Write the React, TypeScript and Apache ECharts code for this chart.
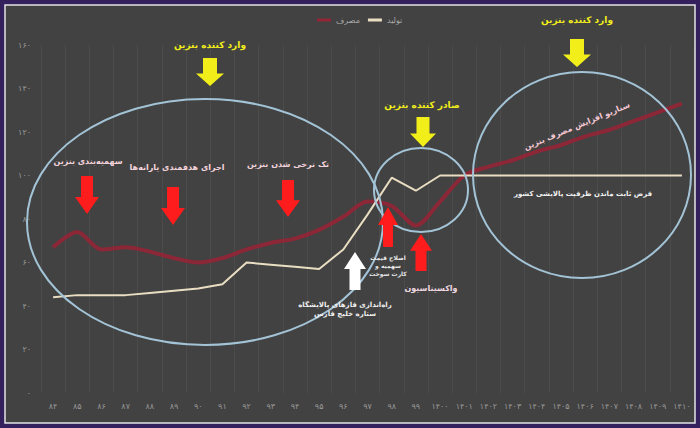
import React, { useEffect, useRef } from "react";
import * as echarts from "echarts";

const categories = ["۸۴","۸۵","۸۶","۸۷","۸۸","۸۹","۹۰","۹۱","۹۲","۹۳","۹۴","۹۵","۹۶","۹۷","۹۸","۹۹","۱۴۰۰","۱۴۰۱","۱۴۰۲","۱۴۰۳","۱۴۰۴","۱۴۰۵","۱۴۰۶","۱۴۰۷","۱۴۰۸","۱۴۰۹","۱۴۱۰"];
const consumption = [67,74,66,67,65,62,60,62,66,69,71,75,81,88,86,77,88,100,104,107,111,114,118,121,125,129,133];
const production = [44,45,45,45,46,47,48,50,60,59,58,57,66,82,99,93,100,100,100,100,100,100,100,100,100,100,100];
const yTickLabels = ["۰","۲۰","۴۰","۶۰","۸۰","۱۰۰","۱۲۰","۱۴۰","۱۶۰"];
const seriesNames = ["مصرف","تولید"];

const FONT = "'DejaVu Sans', sans-serif";

function downArrow(cx: number, y0: number, y1: number, w: number, color: string) {
  const sw = w * 0.5;
  const hl = (y1 - y0) * 0.45;
  return {
    type: "polygon", z: 100, silent: true,
    shape: { points: [[cx - sw / 2, y0], [cx + sw / 2, y0], [cx + sw / 2, y1 - hl], [cx + w / 2, y1 - hl], [cx, y1], [cx - w / 2, y1 - hl], [cx - sw / 2, y1 - hl]] },
    style: { fill: color },
  };
}
function upArrow(cx: number, y0: number, y1: number, w: number, color: string) {
  const sw = w * 0.5;
  const hl = (y1 - y0) * 0.45;
  return {
    type: "polygon", z: 100, silent: true,
    shape: { points: [[cx, y0], [cx + w / 2, y0 + hl], [cx + sw / 2, y0 + hl], [cx + sw / 2, y1], [cx - sw / 2, y1], [cx - sw / 2, y0 + hl], [cx - w / 2, y0 + hl]] },
    style: { fill: color },
  };
}
function label(text: string, x: number, y: number, color: string, size: number, rotation = 0) {
  return {
    type: "text", z: 101, silent: true, x, y, rotation,
    style: {
      text, fill: color, font: `bold ${size}px ${FONT}`,
      textAlign: "center", textVerticalAlign: "middle", align: "center", verticalAlign: "middle",
      lineHeight: size + 2,
    },
  };
}
function ellipse(cx: number, cy: number, rx: number, ry: number) {
  return {
    type: "ellipse", z: 99, silent: true,
    shape: { cx, cy, rx, ry },
    style: { fill: "none", stroke: "#a3c3d6", lineWidth: 2 },
  };
}

export default function App() {
  const ref = useRef<HTMLDivElement>(null);
  useEffect(() => {
    if (!ref.current) return;
    const chart = echarts.init(ref.current, null, { renderer: "svg" });
    const toFa = (v: number) => yTickLabels[Math.round(v / 20)] ?? String(v);
    chart.setOption({
      animation: false,
      backgroundColor: "#33205c",
      textStyle: { fontFamily: FONT },
      legend: {
        data: seriesNames,
        top: 11, left: 312,
        itemWidth: 14, itemHeight: 3, itemGap: 8, icon: "rect",
        textStyle: { color: "#a8a8a8", fontSize: 8, fontFamily: FONT },
      },
      grid: { left: 41, right: 6, top: 45, bottom: 35 },
      xAxis: {
        type: "category",
        data: categories,
        boundaryGap: true,
        axisLine: { show: false },
        axisTick: { show: false },
        axisLabel: { color: "#9a9a9a", fontSize: 8, margin: 9, interval: 0, fontFamily: FONT },
        splitLine: { show: true, lineStyle: { color: "rgba(255,255,255,0.05)", width: 1 } },
      },
      yAxis: {
        type: "value",
        min: 0, max: 160, interval: 20,
        axisLine: { show: false },
        axisTick: { show: false },
        axisLabel: { color: "#9a9a9a", fontSize: 8, margin: 10, formatter: toFa, fontFamily: FONT },
        splitLine: { show: false },
      },
      series: [
        {
          name: seriesNames[0], type: "line", data: consumption, smooth: 0.3, symbol: "none",
          lineStyle: { color: "#942536", width: 4, opacity: 0.9 },
          itemStyle: { color: "#942536" }, z: 3,
        },
        {
          name: seriesNames[1], type: "line", data: production, smooth: false, symbol: "none",
          lineStyle: { color: "#e9dec2", width: 2 },
          itemStyle: { color: "#e9dec2" }, z: 4,
        },
      ],
      graphic: [
        { type: "rect", z: -10, silent: true, shape: { x: 5, y: 5, width: 690, height: 418 }, style: { fill: "#424242", stroke: "#e4e4e4", lineWidth: 1.5 } },
        ellipse(205, 222, 178, 123),
        ellipse(421, 190, 47, 42),
        ellipse(582, 175, 109, 103),
        label("وارد کننده بنزین", 210, 45, "#f2ee1a", 9),
        downArrow(210, 58, 86, 28, "#f2ee1a"),
        label("وارد کننده بنزین", 577, 20, "#f2ee1a", 9),
        downArrow(577, 39, 67, 28, "#f2ee1a"),
        label("صادر کننده بنزین", 422, 105, "#f2ee1a", 9),
        downArrow(423, 117, 147, 26, "#f2ee1a"),
        label("سهمیه‌بندی بنزین", 88, 161, "#f4d4dc", 8),
        downArrow(87, 176, 214, 24, "#ff1c1c"),
        label("اجرای هدفمندی یارانه‌ها", 177, 167, "#f4d4dc", 8),
        downArrow(173, 187, 225, 24, "#ff1c1c"),
        label("تک نرخی شدن بنزین", 288, 164, "#f4d4dc", 8),
        downArrow(288, 180, 217, 24, "#ff1c1c"),
        upArrow(388, 207, 247, 20, "#ff1c1c"),
        upArrow(421, 234, 271, 22, "#ff1c1c"),
        upArrow(355, 252, 290, 22, "#ffffff"),
        label("اصلاح قیمت\nسهمیه و\nکارت سوخت", 388, 265, "#e8e8e8", 6),
        label("واکسیناسیون", 431, 288, "#f0d8e0", 8),
        label("راه‌اندازی فازهای پالایشگاه\nستاره خلیج فارس", 345, 309, "#f0f0f0", 7),
        label("سناریو افزایش مصرف بنزین", 577, 126, "#f4c8d2", 8, 0.39),
        label("فرض ثابت ماندن ظرفیت پالایشی کشور", 583, 194, "#f2f2f2", 7),
      ],
    });
    return () => chart.dispose();
  }, []);
  return (
    <div style={{ position: "fixed", left: 0, top: 0, width: 700, height: 428 }}>
      <div ref={ref} style={{ width: 700, height: 428 }} />
    </div>
  );
}
